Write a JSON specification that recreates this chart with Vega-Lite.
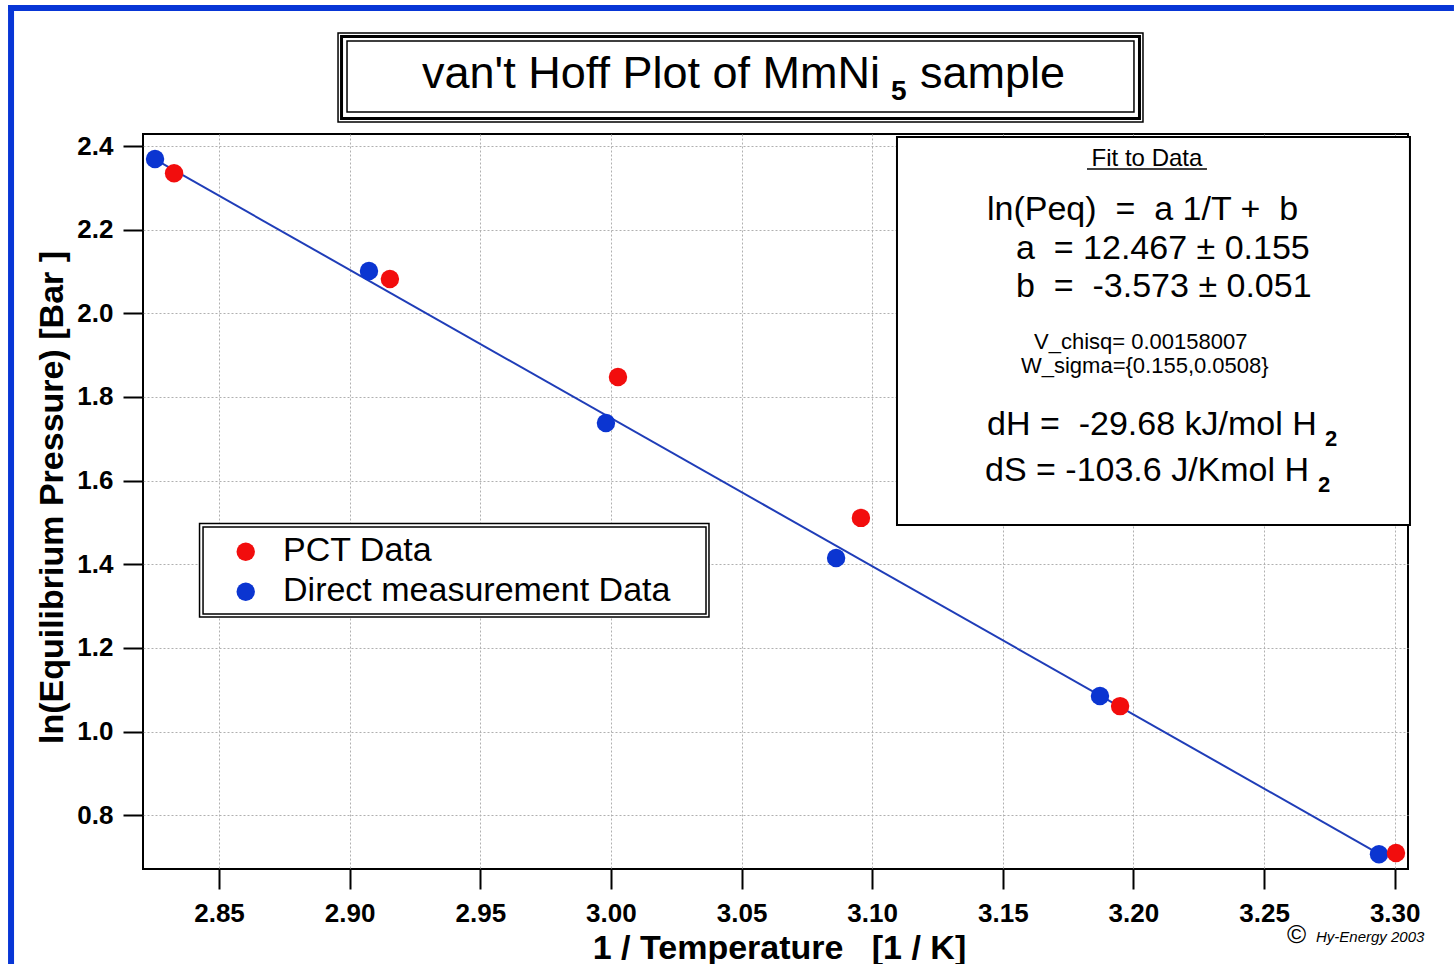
{
  "$schema": "https://vega.github.io/schema/vega-lite/v6.json",
  "width": 1265,
  "height": 735,
  "autosize": {"type": "none"},
  "padding": {"left": 143, "top": 134, "right": 46, "bottom": 95},
  "background": "white",
  "config": {
    "font": "Liberation Sans",
    "view": {"stroke": "black", "strokeWidth": 2},
    "axis": {
      "labelFont": "Liberation Sans",
      "labelFontWeight": "bold",
      "labelFontSize": 26,
      "labelColor": "black",
      "tickColor": "black",
      "tickWidth": 2,
      "tickSize": 20,
      "domain": false,
      "grid": true,
      "gridColor": "#b0b0b0",
      "gridDash": [2, 2],
      "gridWidth": 1,
      "gridOpacity": 1,
      "titleFont": "Liberation Sans",
      "titleFontWeight": "bold",
      "titleFontSize": 34,
      "titleColor": "black"
    }
  },
  "datasets": {
    "points": [
      {"inv_T": 2.8255, "ln_P": 2.369, "series": "Direct measurement Data"},
      {"inv_T": 2.9074, "ln_P": 2.101, "series": "Direct measurement Data"},
      {"inv_T": 2.9981, "ln_P": 1.738, "series": "Direct measurement Data"},
      {"inv_T": 3.0862, "ln_P": 1.415, "series": "Direct measurement Data"},
      {"inv_T": 3.1872, "ln_P": 1.085, "series": "Direct measurement Data"},
      {"inv_T": 3.2940, "ln_P": 0.707, "series": "Direct measurement Data"},
      {"inv_T": 2.8328, "ln_P": 2.335, "series": "PCT Data"},
      {"inv_T": 2.9154, "ln_P": 2.082, "series": "PCT Data"},
      {"inv_T": 3.0027, "ln_P": 1.848, "series": "PCT Data"},
      {"inv_T": 3.0957, "ln_P": 1.511, "series": "PCT Data"},
      {"inv_T": 3.1949, "ln_P": 1.061, "series": "PCT Data"},
      {"inv_T": 3.3005, "ln_P": 0.710, "series": "PCT Data"}
    ],
    "fit": [
      {"inv_T": 2.8255, "ln_P": 2.368},
      {"inv_T": 3.2940, "ln_P": 0.708}
    ]
  },
  "layer": [
    {
      "data": {"values": [{}]},
      "mark": {"type": "rect", "color": "#0836d6"},
      "encoding": {"x": {"datum": 2.76924}, "x2": {"datum": 2.77154}, "y": {"datum": 2.73708}, "y2": {"datum": 0.44447}}
    },
    {
      "data": {"values": [{}]},
      "mark": {"type": "rect", "color": "#0836d6"},
      "encoding": {"x": {"datum": 2.76924}, "x2": {"datum": 3.32269}, "y": {"datum": 2.73708}, "y2": {"datum": 2.72273}}
    },
    {
      "data": {"values": [{}]},
      "mark": {"type": "rect", "fill": "white", "stroke": "black", "strokeWidth": 1.5},
      "encoding": {"x": {"datum": 2.89555}, "x2": {"datum": 3.20366}, "y": {"datum": 2.67014}, "y2": {"datum": 2.45737}}
    },
    {
      "data": {"values": [{}]},
      "mark": {"type": "rect", "fill": "transparent", "stroke": "black", "strokeWidth": 3},
      "encoding": {"x": {"datum": 2.89689}, "x2": {"datum": 3.20232}, "y": {"datum": 2.66177}, "y2": {"datum": 2.46574}}
    },
    {
      "data": {"values": [{}]},
      "mark": {"type": "rect", "fill": "transparent", "stroke": "black", "strokeWidth": 1.5},
      "encoding": {"x": {"datum": 2.89899}, "x2": {"datum": 3.20021}, "y": {"datum": 2.65101}, "y2": {"datum": 2.48128}}
    },
    {
      "data": {"values": [{}]},
      "mark": {"type": "text", "text": "van't Hoff Plot of MmNi", "align": "right", "baseline": "alphabetic", "fontSize": 45, "color": "black"},
      "encoding": {"x": {"datum": 3.10299}, "y": {"datum": 2.53866}}
    },
    {
      "data": {"values": [{}]},
      "mark": {"type": "text", "text": "5", "align": "left", "baseline": "alphabetic", "fontSize": 28, "fontWeight": "bold", "color": "black"},
      "encoding": {"x": {"datum": 3.1072}, "y": {"datum": 2.50997}}
    },
    {
      "data": {"values": [{}]},
      "mark": {"type": "text", "text": "sample", "align": "left", "baseline": "alphabetic", "fontSize": 45, "color": "black"},
      "encoding": {"x": {"datum": 3.1183}, "y": {"datum": 2.53866}}
    },
    {
      "data": {"name": "fit"},
      "mark": {"type": "line", "color": "#1f3db8", "strokeWidth": 2},
      "encoding": {
        "x": {"field": "inv_T", "type": "quantitative"},
        "y": {"field": "ln_P", "type": "quantitative"}
      }
    },
    {
      "data": {"name": "points"},
      "mark": {"type": "circle", "size": 340, "opacity": 1},
      "encoding": {
        "x": {
          "field": "inv_T",
          "type": "quantitative",
          "scale": {"domain": [2.8209, 3.3051], "nice": false, "zero": false},
          "axis": {
            "title": "1 / Temperature\u00a0\u00a0\u00a0[1 / K]",
            "values": [2.85, 2.9, 2.95, 3.0, 3.05, 3.1, 3.15, 3.2, 3.25, 3.3],
            "format": ".2f",
            "grid": true,
            "labelPadding": 11,
            "labelFlush": false,
            "titleX": 636,
            "titleY": 89,
            "titleAlign": "center",
            "titleBaseline": "alphabetic"
          }
        },
        "y": {
          "field": "ln_P",
          "type": "quantitative",
          "scale": {"domain": [0.6716, 2.4287], "nice": false, "zero": false},
          "axis": {
            "title": "ln(Equilibrium Pressure) [Bar ]",
            "values": [0.8, 1.0, 1.2, 1.4, 1.6, 1.8, 2.0, 2.2, 2.4],
            "format": ".1f",
            "grid": true,
            "labelPadding": 10,
            "labelFlush": false,
            "titleX": -81,
            "titleY": 363,
            "titleAngle": 270,
            "titleAlign": "center",
            "titleBaseline": "alphabetic"
          }
        },
        "color": {
          "field": "series",
          "type": "nominal",
          "scale": {"domain": ["PCT Data", "Direct measurement Data"], "range": ["#f20d0d", "#0b35d1"]},
          "legend": null
        }
      }
    },
    {
      "data": {"values": [{}]},
      "mark": {"type": "rect", "fill": "white", "stroke": "black", "strokeWidth": 2},
      "encoding": {"x": {"datum": 3.1095}, "x2": {"datum": 3.30585}, "y": {"datum": 2.42152}, "y2": {"datum": 1.49395}}
    },
    {
      "data": {"values": [{}]},
      "mark": {"type": "text", "text": "Fit to Data", "align": "center", "baseline": "alphabetic", "fontSize": 24, "color": "black"},
      "encoding": {"x": {"datum": 3.20519}, "y": {"datum": 2.35219}}
    },
    {
      "data": {"values": [{}]},
      "mark": {"type": "rule", "color": "black", "strokeWidth": 1.5},
      "encoding": {"x": {"datum": 3.18222}, "x2": {"datum": 3.22815}, "y": {"datum": 2.34502}}
    },
    {
      "data": {"values": [{}]},
      "mark": {"type": "text", "text": "ln(Peq)\u00a0\u00a0=\u00a0\u00a0a 1/T +\u00a0\u00a0b", "align": "left", "baseline": "alphabetic", "fontSize": 34, "color": "black"},
      "encoding": {"x": {"datum": 3.14395}, "y": {"datum": 2.22309}}
    },
    {
      "data": {"values": [{}]},
      "mark": {"type": "text", "text": "a\u00a0\u00a0= 12.467 ± 0.155", "align": "left", "baseline": "alphabetic", "fontSize": 34, "color": "black"},
      "encoding": {"x": {"datum": 3.15505}, "y": {"datum": 2.12986}}
    },
    {
      "data": {"values": [{}]},
      "mark": {"type": "text", "text": "b\u00a0\u00a0=\u00a0\u00a0-3.573 ± 0.051", "align": "left", "baseline": "alphabetic", "fontSize": 34, "color": "black"},
      "encoding": {"x": {"datum": 3.15505}, "y": {"datum": 2.03902}}
    },
    {
      "data": {"values": [{}]},
      "mark": {"type": "text", "text": "V_chisq= 0.00158007", "align": "left", "baseline": "alphabetic", "fontSize": 22, "color": "black"},
      "encoding": {"x": {"datum": 3.16194}, "y": {"datum": 1.9147}}
    },
    {
      "data": {"values": [{}]},
      "mark": {"type": "text", "text": "W_sigma={0.155,0.0508}", "align": "left", "baseline": "alphabetic", "fontSize": 22, "color": "black"},
      "encoding": {"x": {"datum": 3.15696}, "y": {"datum": 1.85733}}
    },
    {
      "data": {"values": [{}]},
      "mark": {"type": "text", "text": "dH =\u00a0\u00a0-29.68 kJ/mol H", "align": "left", "baseline": "alphabetic", "fontSize": 34, "color": "black"},
      "encoding": {"x": {"datum": 3.14395}, "y": {"datum": 1.70911}}
    },
    {
      "data": {"values": [{}]},
      "mark": {"type": "text", "text": "2", "align": "left", "baseline": "alphabetic", "fontSize": 22, "fontWeight": "bold", "color": "black"},
      "encoding": {"x": {"datum": 3.27332}, "y": {"datum": 1.68281}}
    },
    {
      "data": {"values": [{}]},
      "mark": {"type": "text", "text": "dS = -103.6 J/Kmol H", "align": "left", "baseline": "alphabetic", "fontSize": 34, "color": "black"},
      "encoding": {"x": {"datum": 3.14318}, "y": {"datum": 1.59914}}
    },
    {
      "data": {"values": [{}]},
      "mark": {"type": "text", "text": "2", "align": "left", "baseline": "alphabetic", "fontSize": 22, "fontWeight": "bold", "color": "black"},
      "encoding": {"x": {"datum": 3.27064}, "y": {"datum": 1.57284}}
    },
    {
      "data": {"values": [{}]},
      "mark": {"type": "rect", "fill": "white", "stroke": "black", "strokeWidth": 1.5},
      "encoding": {"x": {"datum": 2.84254}, "x2": {"datum": 3.03754}, "y": {"datum": 1.49754}, "y2": {"datum": 1.27401}}
    },
    {
      "data": {"values": [{}]},
      "mark": {"type": "rect", "fill": "transparent", "stroke": "black", "strokeWidth": 1.5},
      "encoding": {"x": {"datum": 2.84388}, "x2": {"datum": 3.0364}, "y": {"datum": 1.48917}, "y2": {"datum": 1.28119}}
    },
    {
      "data": {"values": [{}]},
      "mark": {"type": "circle", "size": 340, "opacity": 1},
      "encoding": {"x": {"datum": 2.86022}, "y": {"datum": 1.43012}, "color": {"datum": "PCT Data", "type": "nominal", "legend": null}}
    },
    {
      "data": {"values": [{}]},
      "mark": {"type": "circle", "size": 340, "opacity": 1},
      "encoding": {"x": {"datum": 2.86022}, "y": {"datum": 1.3345}, "color": {"datum": "Direct measurement Data", "type": "nominal", "legend": null}}
    },
    {
      "data": {"values": [{}]},
      "mark": {"type": "text", "text": "PCT Data", "align": "left", "baseline": "alphabetic", "fontSize": 34, "color": "black"},
      "encoding": {"x": {"datum": 2.8745}, "y": {"datum": 1.40789}}
    },
    {
      "data": {"values": [{}]},
      "mark": {"type": "text", "text": "Direct measurement Data", "align": "left", "baseline": "alphabetic", "fontSize": 34, "color": "black"},
      "encoding": {"x": {"datum": 2.8745}, "y": {"datum": 1.31226}}
    },
    {
      "data": {"values": [{}]},
      "mark": {"type": "text", "text": "©", "align": "left", "baseline": "alphabetic", "fontSize": 26, "color": "black"},
      "encoding": {"x": {"datum": 3.25877}, "y": {"datum": 0.49467}}
    },
    {
      "data": {"values": [{}]},
      "mark": {"type": "text", "text": "Hy-Energy 2003", "align": "left", "baseline": "alphabetic", "fontSize": 15, "fontStyle": "italic", "color": "black"},
      "encoding": {"x": {"datum": 3.26987}, "y": {"datum": 0.49706}}
    }
  ]
}
